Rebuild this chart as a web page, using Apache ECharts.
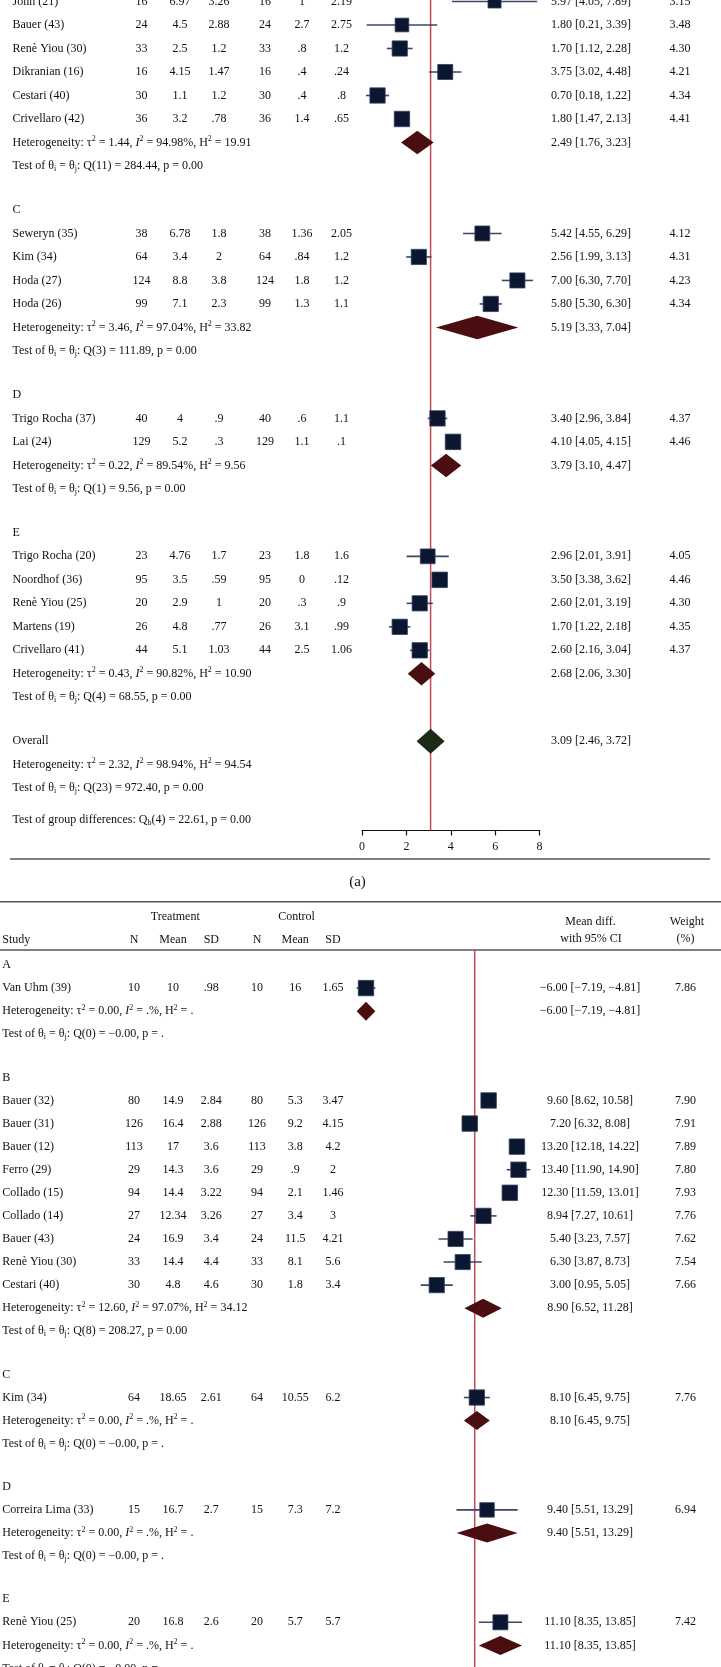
<!DOCTYPE html>
<html>
<head>
<meta charset="utf-8">
<title>Forest plots</title>
<script src="https://cdn.jsdelivr.net/npm/echarts@6/dist/echarts.min.js"></script>
<style>
  html, body { margin: 0; padding: 0; background: #fff; }
  #chart { width: 721px; height: 1667px; }
</style>
</head>
<body>
<div id="chart"></div>
<script>
// ---------- panel (a): studies visible in the crop ----------
const aGroup = ['B', 'B', 'B', 'B', 'B', 'B', 'C', 'C', 'C', 'C', 'D', 'D', 'E', 'E', 'E', 'E', 'E'];
const aStudy = ['John (21)', 'Bauer (43)', 'Renè Yiou (30)', 'Dikranian (16)', 'Cestari (40)', 'Crivellaro (42)',
  'Seweryn (35)', 'Kim (34)', 'Hoda (27)', 'Hoda (26)', 'Trigo Rocha (37)', 'Lai (24)',
  'Trigo Rocha (20)', 'Noordhof (36)', 'Renè Yiou (25)', 'Martens (19)', 'Crivellaro (41)'];
const aTrtN = [16, 24, 33, 16, 30, 36, 38, 64, 124, 99, 40, 129, 23, 95, 20, 26, 44];
const aTrtMean = [6.97, 4.5, 2.5, 4.15, 1.1, 3.2, 6.78, 3.4, 8.8, 7.1, 4, 5.2, 4.76, 3.5, 2.9, 4.8, 5.1];
const aTrtSD = [3.26, 2.88, 1.2, 1.47, 1.2, 0.78, 1.8, 2, 3.8, 2.3, 0.9, 0.3, 1.7, 0.59, 1, 0.77, 1.03];
const aCtlN = [16, 24, 33, 16, 30, 36, 38, 64, 124, 99, 40, 129, 23, 95, 20, 26, 44];
const aCtlMean = [1, 2.7, 0.8, 0.4, 0.4, 1.4, 1.36, 0.84, 1.8, 1.3, 0.6, 1.1, 1.8, 0, 0.3, 3.1, 2.5];
const aCtlSD = [2.19, 2.75, 1.2, 0.24, 0.8, 0.65, 2.05, 1.2, 1.2, 1.1, 1.1, 0.1, 1.6, 0.12, 0.9, 0.99, 1.06];
const aMD = [5.97, 1.80, 1.70, 3.75, 0.70, 1.80, 5.42, 2.56, 7.00, 5.80, 3.40, 4.10, 2.96, 3.50, 2.60, 1.70, 2.60];
const aLo = [4.05, 0.21, 1.12, 3.02, 0.18, 1.47, 4.55, 1.99, 6.30, 5.30, 2.96, 4.05, 2.01, 3.38, 2.01, 1.22, 2.16];
const aHi = [7.89, 3.39, 2.28, 4.48, 1.22, 2.13, 6.29, 3.13, 7.70, 6.30, 3.84, 4.15, 3.91, 3.62, 3.19, 2.18, 3.04];
const aWeight = [3.15, 3.48, 4.30, 4.21, 4.34, 4.41, 4.12, 4.31, 4.23, 4.34, 4.37, 4.46, 4.05, 4.46, 4.30, 4.35, 4.37];

const aSubGroup = ['B', 'C', 'D', 'E'];
const aSubMD = [2.49, 5.19, 3.79, 2.68];
const aSubLo = [1.76, 3.33, 3.10, 2.06];
const aSubHi = [3.23, 7.04, 4.47, 3.30];
const aSubTau2 = ['1.44', '3.46', '0.22', '0.43'];
const aSubI2 = ['94.98', '97.04', '89.54', '90.82'];
const aSubH2 = ['19.91', '33.82', '9.56', '10.90'];
const aSubQdf = [11, 3, 1, 4];
const aSubQ = ['284.44', '111.89', '9.56', '68.55'];
const aSubP = ['0.00', '0.00', '0.00', '0.00'];

const aOverallMD = 3.09, aOverallLo = 2.46, aOverallHi = 3.72;
const aOverallHet = ['2.32', '98.94', '94.54'];      // tau2, I2, H2
const aOverallTest = [23, '972.40', '0.00'];        // df, Q, p
const aGroupDiff = [4, '22.61', '0.00'];            // df, Qb, p
const aTicks = [0, 2, 4, 6, 8];

// ---------- panel (b) ----------
const bGroup = ['A', 'B', 'B', 'B', 'B', 'B', 'B', 'B', 'B', 'B', 'C', 'D', 'E'];
const bStudy = ['Van Uhm (39)', 'Bauer (32)', 'Bauer (31)', 'Bauer (12)', 'Ferro (29)', 'Collado (15)',
  'Collado (14)', 'Bauer (43)', 'Renè Yiou (30)', 'Cestari (40)', 'Kim (34)', 'Correira Lima (33)', 'Renè Yiou (25)'];
const bTrtN = [10, 80, 126, 113, 29, 94, 27, 24, 33, 30, 64, 15, 20];
const bTrtMean = [10, 14.9, 16.4, 17, 14.3, 14.4, 12.34, 16.9, 14.4, 4.8, 18.65, 16.7, 16.8];
const bTrtSD = [0.98, 2.84, 2.88, 3.6, 3.6, 3.22, 3.26, 3.4, 4.4, 4.6, 2.61, 2.7, 2.6];
const bCtlN = [10, 80, 126, 113, 29, 94, 27, 24, 33, 30, 64, 15, 20];
const bCtlMean = [16, 5.3, 9.2, 3.8, 0.9, 2.1, 3.4, 11.5, 8.1, 1.8, 10.55, 7.3, 5.7];
const bCtlSD = [1.65, 3.47, 4.15, 4.2, 2, 1.46, 3, 4.21, 5.6, 3.4, 6.2, 7.2, 5.7];
const bMD = [-6.00, 9.60, 7.20, 13.20, 13.40, 12.30, 8.94, 5.40, 6.30, 3.00, 8.10, 9.40, 11.10];
const bLo = [-7.19, 8.62, 6.32, 12.18, 11.90, 11.59, 7.27, 3.23, 3.87, 0.95, 6.45, 5.51, 8.35];
const bHi = [-4.81, 10.58, 8.08, 14.22, 14.90, 13.01, 10.61, 7.57, 8.73, 5.05, 9.75, 13.29, 13.85];
const bWeight = [7.86, 7.90, 7.91, 7.89, 7.80, 7.93, 7.76, 7.62, 7.54, 7.66, 7.76, 6.94, 7.42];

const bSubGroup = ['A', 'B', 'C', 'D', 'E'];
const bSubMD = [-6.00, 8.90, 8.10, 9.40, 11.10];
const bSubLo = [-7.19, 6.52, 6.45, 5.51, 8.35];
const bSubHi = [-4.81, 11.28, 9.75, 13.29, 13.85];
const bSubTau2 = ['0.00', '12.60', '0.00', '0.00', '0.00'];
const bSubI2 = ['.', '97.07', '.', '.', '.'];
const bSubH2 = ['.', '34.12', '.', '.', '.'];
const bSubQdf = [0, 8, 0, 0, 0];
const bSubQ = ['−0.00', '208.27', '−0.00', '−0.00', '−0.00'];
const bSubP = ['.', '0.00', '.', '.', '.'];
const bOverallMD = 7.83; // overall line, value (label is cropped)

// ---------- styling ----------
const FAMILY = '"Liberation Serif", "DejaVu Serif", serif';
const FONT = '12px ' + FAMILY;
const INK = '#111';
const NAVY = '#0b1631';
const WHISKER = '#3c4763';
const MAROON = '#4a0d10';
const GREEN = '#1c2b17';
const REDLINE = '#c24b57';
const RULE = '#555';
const RICH = {
  sup: { font: '8px ' + FAMILY, fill: INK, padding: [0, 0, 7, 0] },
  sub: { font: '8px ' + FAMILY, fill: INK, padding: [6, 0, 0, 0] },
  it: { font: 'italic 12px ' + FAMILY, fill: INK }
};

const ROW_A = 23.5, ROW_B = 23.08, GAP = 1.87;

function layout(studyGroup, subGroups) {
  const rows = [];
  let pos = 0;
  subGroups.forEach(function (g, gi) {
    if (gi > 0) pos += GAP;
    rows.push({ kind: 'head', pos: pos, g: gi });
    studyGroup.forEach(function (sg, i) {
      if (sg === g) { pos += 1; rows.push({ kind: 'study', pos: pos, i: i }); }
    });
    pos += 1; rows.push({ kind: 'het', pos: pos, g: gi });
    pos += 1; rows.push({ kind: 'test', pos: pos, g: gi });
  });
  return rows;
}

const aRows = layout(aGroup, aSubGroup);
const aLast = aRows[aRows.length - 1].pos;
aRows.push({ kind: 'overall', pos: aLast + GAP });
aRows.push({ kind: 'ohet', pos: aLast + GAP + 1 });
aRows.push({ kind: 'otest', pos: aLast + GAP + 2 });
aRows.push({ kind: 'gdiff', pos: aLast + GAP + 3.35 });
const bRows = layout(bGroup, bSubGroup);

function cell(v) { return String(v).replace(/^0\./, '.'); }
function f2(v) { return v.toFixed(2).replace('-', '−'); }
function ciText(m, l, h) { return f2(m) + ' [' + f2(l) + ', ' + f2(h) + ']'; }
function hetText(t, i2, h2) {
  return 'Heterogeneity: τ{sup|2} = ' + t + ', {it|I}{sup|2} = ' + i2 + '%, H{sup|2} = ' + h2;
}
function testText(df, q, p) {
  return 'Test of θ{sub|i} = θ{sub|j}: Q(' + df + ') = ' + q + ', p = ' + p;
}

const A = {
  rows: aRows, xMin: 0, study: aStudy, trtN: aTrtN, trtMean: aTrtMean, trtSD: aTrtSD,
  ctlN: aCtlN, ctlMean: aCtlMean, ctlSD: aCtlSD, md: aMD, lo: aLo, hi: aHi, weight: aWeight,
  subGroup: aSubGroup, subMD: aSubMD, subLo: aSubLo, subHi: aSubHi, tau2: aSubTau2, i2: aSubI2,
  h2: aSubH2, qdf: aSubQdf, q: aSubQ, p: aSubP, diamond: 23.5, ovDiamond: 25,
  cols: { study: 12.5, n1: 141.6, m1: 180, s1: 219, n2: 265, m2: 302, s2: 341.4, ci: 591, w: 680 }
};
const B = {
  rows: bRows, xMin: -8, study: bStudy, trtN: bTrtN, trtMean: bTrtMean, trtSD: bTrtSD,
  ctlN: bCtlN, ctlMean: bCtlMean, ctlSD: bCtlSD, md: bMD, lo: bLo, hi: bHi, weight: bWeight,
  subGroup: bSubGroup, subMD: bSubMD, subLo: bSubLo, subHi: bSubHi, tau2: bSubTau2, i2: bSubI2,
  h2: bSubH2, qdf: bSubQdf, q: bSubQ, p: bSubP, diamond: 19, ovDiamond: 19,
  cols: { study: 2.3, n1: 134, m1: 173, s1: 211.3, n2: 257, m2: 295.2, s2: 333, ci: 590, w: 685.5 }
};

function txt(x, y, s, align, font) {
  return {
    type: 'text', x: x, y: y, silent: true,
    style: { text: s, font: font || FONT, fill: INK, align: align, verticalAlign: 'middle', rich: RICH }
  };
}

function textRenderer(P) {
  return function (params, api) {
    const r = P.rows[params.dataIndex];
    const y = api.coord([P.xMin, r.pos])[1];
    const c = P.cols;
    const out = [];
    if (r.kind === 'head') {
      out.push(txt(c.study, y, P.subGroup[r.g], 'left'));
    } else if (r.kind === 'study') {
      const i = r.i;
      out.push(txt(c.study, y, P.study[i], 'left'));
      out.push(txt(c.n1, y, cell(P.trtN[i]), 'center'));
      out.push(txt(c.m1, y, cell(P.trtMean[i]), 'center'));
      out.push(txt(c.s1, y, cell(P.trtSD[i]), 'center'));
      out.push(txt(c.n2, y, cell(P.ctlN[i]), 'center'));
      out.push(txt(c.m2, y, cell(P.ctlMean[i]), 'center'));
      out.push(txt(c.s2, y, cell(P.ctlSD[i]), 'center'));
      out.push(txt(c.ci, y, ciText(P.md[i], P.lo[i], P.hi[i]), 'center'));
      out.push(txt(c.w, y, P.weight[i].toFixed(2), 'center'));
    } else if (r.kind === 'het') {
      out.push(txt(c.study, y, hetText(P.tau2[r.g], P.i2[r.g], P.h2[r.g]), 'left'));
      out.push(txt(c.ci, y, ciText(P.subMD[r.g], P.subLo[r.g], P.subHi[r.g]), 'center'));
    } else if (r.kind === 'test') {
      out.push(txt(c.study, y, testText(P.qdf[r.g], P.q[r.g], P.p[r.g]), 'left'));
    } else if (r.kind === 'overall') {
      out.push(txt(c.study, y, 'Overall', 'left'));
      out.push(txt(c.ci, y, ciText(aOverallMD, aOverallLo, aOverallHi), 'center'));
    } else if (r.kind === 'ohet') {
      out.push(txt(c.study, y, hetText(aOverallHet[0], aOverallHet[1], aOverallHet[2]), 'left'));
    } else if (r.kind === 'otest') {
      out.push(txt(c.study, y, testText(aOverallTest[0], aOverallTest[1], aOverallTest[2]), 'left'));
    } else if (r.kind === 'gdiff') {
      out.push(txt(c.study, y, 'Test of group differences: Q{sub|b}(' + aGroupDiff[0] + ') = ' +
        aGroupDiff[1] + ', p = ' + aGroupDiff[2], 'left'));
    }
    return { type: 'group', children: out };
  };
}

function studyData(P) {
  return P.rows.filter(function (r) { return r.kind === 'study'; })
    .map(function (r) { return [P.md[r.i], P.lo[r.i], P.hi[r.i], r.pos, P.weight[r.i]]; });
}
function diamondData(P) {
  const d = P.rows.filter(function (r) { return r.kind === 'het'; })
    .map(function (r) { return [P.subMD[r.g], P.subLo[r.g], P.subHi[r.g], r.pos, 0]; });
  P.rows.forEach(function (r) {
    if (r.kind === 'overall') d.push([aOverallMD, aOverallLo, aOverallHi, r.pos, 1]);
  });
  return d;
}

function panelSeries(P, idx, refValue) {
  const maxW = Math.max.apply(null, P.weight);
  return [
    {
      type: 'custom', xAxisIndex: idx, yAxisIndex: idx, z: 1, clip: false, silent: true,
      data: [[refValue]],
      encode: { x: 0 },
      renderItem: function (params, api) {
        const cs = params.coordSys;
        const x = api.coord([api.value(0), P.rows[0].pos])[0];
        return {
          type: 'line', shape: { x1: x, y1: cs.y, x2: x, y2: cs.y + cs.height },
          style: { stroke: REDLINE, lineWidth: 1.5 }
        };
      }
    },
    {
      type: 'custom', xAxisIndex: idx, yAxisIndex: idx, z: 2, clip: false, silent: true,
      data: studyData(P),
      encode: { x: [1, 2], y: 3 },
      renderItem: function (params, api) {
        const l = api.coord([api.value(1), api.value(3)]);
        const h = api.coord([api.value(2), api.value(3)]);
        return {
          type: 'line', shape: { x1: l[0], y1: l[1], x2: h[0], y2: h[1] },
          style: { stroke: WHISKER, lineWidth: 1.6 }
        };
      }
    },
    {
      type: 'scatter', xAxisIndex: idx, yAxisIndex: idx, z: 3, clip: false, silent: true,
      symbol: 'rect',
      symbolSize: function (v) { return 15.5 * Math.sqrt(v[4] / maxW); },
      encode: { x: 0, y: 3 },
      data: studyData(P),
      itemStyle: { color: NAVY, borderColor: '#34405c', borderWidth: 0.8, opacity: 1 }
    },
    {
      type: 'custom', xAxisIndex: idx, yAxisIndex: idx, z: 3, clip: false, silent: true,
      data: diamondData(P),
      encode: { x: [0, 1, 2], y: 3 },
      renderItem: function (params, api) {
        const pos = api.value(3), ov = api.value(4);
        const m = api.coord([api.value(0), pos]);
        const l = api.coord([api.value(1), pos]);
        const h = api.coord([api.value(2), pos]);
        const half = (ov ? P.ovDiamond : P.diamond) / 2;
        return {
          type: 'polygon',
          shape: { points: [[l[0], m[1]], [m[0], m[1] - half], [h[0], m[1]], [m[0], m[1] + half]] },
          style: { fill: ov ? GREEN : MAROON }
        };
      }
    },
    {
      type: 'custom', xAxisIndex: idx, yAxisIndex: idx, z: 4, clip: false, silent: true,
      data: P.rows.map(function (r) { return [P.xMin, r.pos]; }),
      encode: { x: 0, y: 1 },
      renderItem: textRenderer(P)
    }
  ];
}

// grid geometry: pixel positions of rows
const aTopY = 1.5;            // John (21) row centre
const aAxisY = 830.5;         // x axis line of panel (a)
const aYMin = 1 - aTopY / ROW_A;
const aYMax = aYMin + aAxisY / ROW_A;
const bTop = 950, bFirst = 965, bBottom = 1667;
const bYMin = -(bFirst - bTop) / ROW_B;
const bYMax = bYMin + (bBottom - bTop) / ROW_B;
const aPx = 22.2, bPx = 7.86;

const chart = echarts.init(document.getElementById('chart'), null, { renderer: 'canvas' });

const hdr = function (x, y, s, align) {
  return { type: 'text', x: x, y: y, silent: true,
    style: { text: s, font: FONT, fill: INK, align: align, verticalAlign: 'middle' } };
};
const rule = function (x1, x2, y) {
  return { type: 'line', silent: true, shape: { x1: x1, y1: y, x2: x2, y2: y },
    style: { stroke: RULE, lineWidth: 1.6 } };
};

chart.setOption({
  animation: false,
  backgroundColor: '#fff',
  grid: [
    { left: 362, top: 0, width: aPx * (aTicks[aTicks.length - 1] - aTicks[0]), height: aAxisY },
    { left: 366 - 2 * bPx, top: bTop, width: 24 * bPx, height: bBottom - bTop }
  ],
  xAxis: [
    {
      gridIndex: 0, type: 'value', min: aTicks[0], max: aTicks[aTicks.length - 1], interval: 2,
      axisLine: { show: true, lineStyle: { color: '#111', width: 1.2 } },
      axisTick: { show: true, length: 5, lineStyle: { color: '#111', width: 1.2 } },
      axisLabel: { color: INK, fontSize: 12, fontFamily: FAMILY, margin: 10 },
      splitLine: { show: false }
    },
    { gridIndex: 1, type: 'value', min: -8, max: 16, show: false, splitLine: { show: false } }
  ],
  yAxis: [
    { gridIndex: 0, type: 'value', inverse: true, min: aYMin, max: aYMax, show: false, splitLine: { show: false } },
    { gridIndex: 1, type: 'value', inverse: true, min: bYMin, max: bYMax, show: false, splitLine: { show: false } }
  ],
  graphic: [
    rule(10, 710, 859),
    { type: 'text', x: 357.5, y: 881.7, silent: true,
      style: { text: '(a)', font: '15px ' + FAMILY, fill: INK, align: 'center', verticalAlign: 'middle' } },
    rule(0, 721, 901.7),
    hdr(175.3, 916.7, 'Treatment', 'center'),
    hdr(296.6, 916.7, 'Control', 'center'),
    hdr(590.5, 921.7, 'Mean diff.', 'center'),
    hdr(687, 921.7, 'Weight', 'center'),
    hdr(2.3, 940, 'Study', 'left'),
    hdr(B.cols.n1, 940, 'N', 'center'),
    hdr(B.cols.m1, 940, 'Mean', 'center'),
    hdr(B.cols.s1, 940, 'SD', 'center'),
    hdr(B.cols.n2, 940, 'N', 'center'),
    hdr(B.cols.m2, 940, 'Mean', 'center'),
    hdr(B.cols.s2, 940, 'SD', 'center'),
    hdr(591, 939, 'with 95% CI', 'center'),
    hdr(685.5, 939, '(%)', 'center'),
    rule(0, 721, bTop)
  ],
  series: panelSeries(A, 0, aOverallMD).concat(panelSeries(B, 1, bOverallMD))
});
</script>
</body>
</html>
